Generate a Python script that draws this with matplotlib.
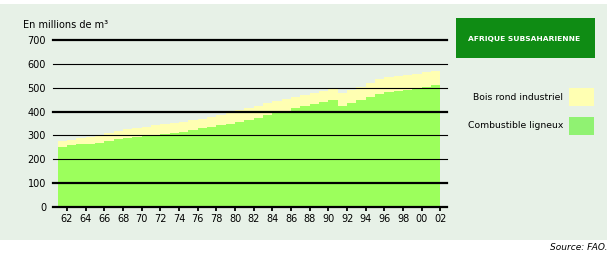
import numpy as np
import matplotlib.pyplot as plt
from matplotlib.patches import Rectangle

# FAO, Afrique subsaharienne, millions de m3
years = list(range(1961, 2003))
combustible = [253, 258, 262, 266, 270, 278, 284, 289, 294, 299,
               303, 307, 311, 316, 323, 330, 337, 343, 350, 358,
               366, 375, 385, 396, 404, 413, 422, 432, 442, 450,
               425, 435, 448, 462, 475, 483, 487, 491, 496, 502,
               510, 521]
bois_rond = [24, 24, 26, 27, 30, 34, 34, 36, 38, 38,
             39, 40, 41, 41, 40, 40, 41, 44, 47, 49,
             49, 50, 50, 48, 49, 49, 48, 47, 46, 50,
             54, 55, 57, 58, 60, 62, 62, 62, 62, 63,
             62, 60]
grid_thick = [0, 100, 400, 700]
grid_thin = [200, 300, 500, 600]
xticks = list(range(1962, 2003, 2))
xticklabels = [f"{y % 100:02d}" for y in xticks]

BG = "#e7f1e7"
GREEN = "#9cff5c"
YELLOW = "#ffffb2"

plt.rcParams["font.family"] = "DejaVu Sans"

fig = plt.figure(figsize=(6.10, 2.56), dpi=100)
fig.patch.set_facecolor("white")
fig.add_artist(Rectangle((0, 16 / 256), 607 / 610, 236 / 256,
                         transform=fig.transFigure, facecolor=BG,
                         edgecolor="none", zorder=0))

ax = fig.add_axes([53 / 610, 49 / 256, 394 / 610, 167 / 256])
ax.set_facecolor("none")
x = np.array(years)
fuel = np.array(combustible)
total = fuel + np.array(bois_rond)
ax.fill_between(x, 0, total, step="post", color=YELLOW, lw=0, zorder=1)
ax.fill_between(x, 0, fuel, step="post", color=GREEN, lw=0, zorder=2)

for v in grid_thick:
    ax.axhline(v, color="black", lw=1.6, zorder=3, clip_on=False)
for v in grid_thin:
    ax.axhline(v, color="black", lw=0.8, zorder=3, clip_on=False)

ax.set_xlim(1960.5, 2002.7)
ax.set_ylim(0, 700)
for s in ax.spines.values():
    s.set_visible(False)
ax.set_yticks(grid_thick + grid_thin)
ax.set_yticklabels([str(v) for v in grid_thick + grid_thin])
ax.tick_params(axis="y", length=0, pad=5, labelsize=7)
ax.set_xticks(xticks)
ax.set_xticklabels(xticklabels)
ax.tick_params(axis="x", length=3, width=1.3, pad=2, labelsize=7)

fig.text(23 / 610, 1 - 25 / 256, "En millions de m\u00b3", fontsize=7,
         ha="left", va="center")

# title box and legend
fig.add_artist(Rectangle((456 / 610, 1 - 58 / 256), 139 / 610, 40 / 256,
                         transform=fig.transFigure, facecolor="#0f8c14",
                         edgecolor="none"))
fig.text(524 / 610, 1 - 39 / 256, "AFRIQUE SUBSAHARIENNE", color="white",
         fontsize=5.4, fontweight="bold", ha="center", va="center")

for label, color, yc in [("Bois rond industriel", YELLOW, 97),
                         ("Combustible ligneux", "#90f272", 126)]:
    fig.add_artist(Rectangle((569 / 610, 1 - (yc + 9) / 256), 25 / 610, 18 / 256,
                             transform=fig.transFigure, facecolor=color,
                             edgecolor="none"))
    fig.text(563 / 610, 1 - yc / 256, label, fontsize=6.7, ha="right", va="center")

fig.text(607 / 610, 1 - 247 / 256, "Source: FAO.", fontsize=6.5,
         style="italic", ha="right", va="center")

fig.savefig("out.png", dpi=100)
